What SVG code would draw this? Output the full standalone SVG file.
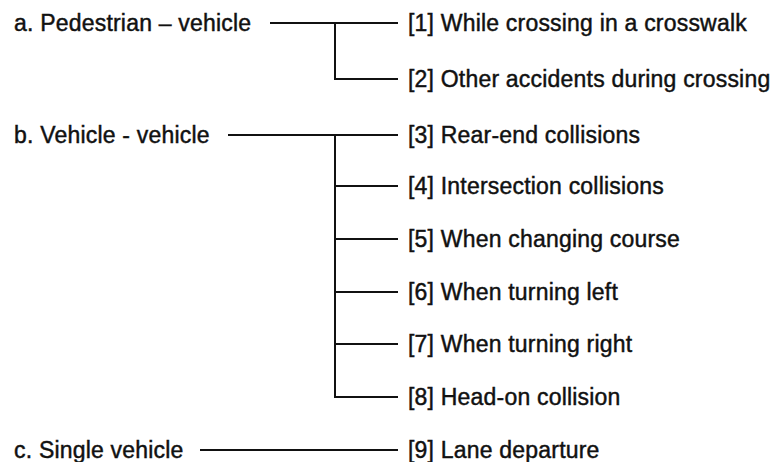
<svg xmlns="http://www.w3.org/2000/svg" width="779" height="462" viewBox="0 0 779 462">
<style>
text{font-family:"Liberation Sans",Arial,sans-serif;font-size:23px;letter-spacing:0.2px;fill:#111;stroke:#111;stroke-width:0.45}
.c line,.c polyline{stroke:#111;stroke-width:2;fill:none}
</style>
<rect width="779" height="462" fill="#fff"/>
<g class="c" id="connectors">
<line x1="270" y1="23" x2="398" y2="23"/>
<polyline points="335,23 335,79 398,79"/>
<line x1="228" y1="135" x2="398" y2="135"/>
<line x1="335" y1="135" x2="335" y2="397"/>
<line x1="335" y1="186" x2="398" y2="186"/>
<line x1="335" y1="239" x2="398" y2="239"/>
<line x1="335" y1="292" x2="398" y2="292"/>
<line x1="335" y1="344" x2="398" y2="344"/>
<line x1="334" y1="397" x2="398" y2="397"/>
<line x1="200" y1="450" x2="398" y2="450"/>
</g>
<g id="a"><text x="14" y="31">a. Pedestrian – vehicle</text></g>
<g id="b"><text x="14" y="143">b. Vehicle - vehicle</text></g>
<g id="c"><text x="14" y="458">c. Single vehicle</text></g>
<g id="n1"><text x="408" y="31">[1] While crossing in a crosswalk</text></g>
<g id="n2"><text x="408" y="87">[2] Other accidents during crossing</text></g>
<g id="n3"><text x="408" y="143">[3] Rear-end collisions</text></g>
<g id="n4"><text x="408" y="194">[4] Intersection collisions</text></g>
<g id="n5"><text x="408" y="247">[5] When changing course</text></g>
<g id="n6"><text x="408" y="300">[6] When turning left</text></g>
<g id="n7"><text x="408" y="352">[7] When turning right</text></g>
<g id="n8"><text x="408" y="405">[8] Head-on collision</text></g>
<g id="n9"><text x="408" y="458">[9] Lane departure</text></g>
</svg>
